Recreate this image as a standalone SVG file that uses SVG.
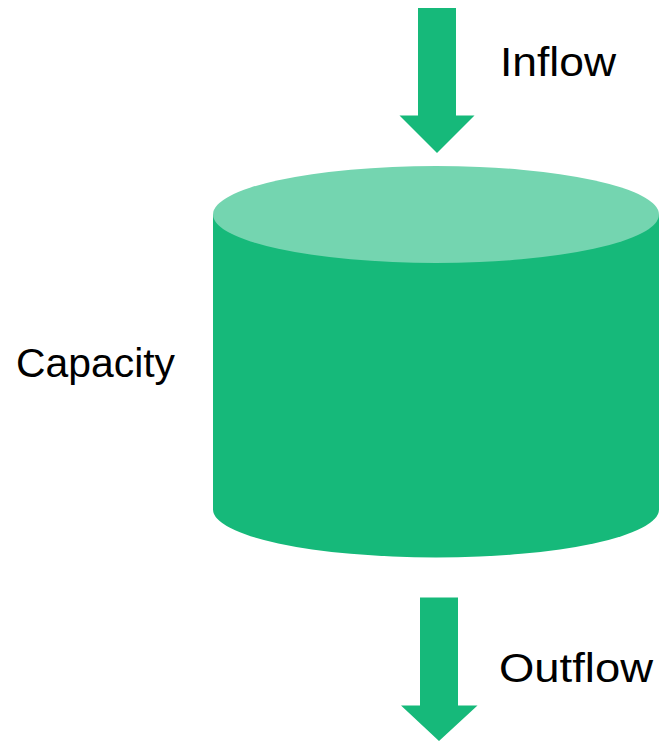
<svg xmlns="http://www.w3.org/2000/svg" width="659" height="741" viewBox="0 0 659 741">
  <style>
    .flow { fill: #16b97a; }
    .body { fill: #16b97a; }
    .lid { fill: #74d5b0; }
    .label { font-family: "Liberation Sans", Arial, sans-serif; font-size: 40px; fill: #000000; }
  </style>
  <rect width="659" height="741" fill="#ffffff"/>

  <!-- storage tank -->
  <g id="tank">
    <path class="body" d="M213,214.5 L659,214.5 L659,509.5 A223,48 0 0 1 213,509.5 Z"/>
    <ellipse class="lid" cx="436" cy="214.5" rx="223" ry="48.5"/>
  </g>

  <!-- flow arrows -->
  <g id="connectors">
    <polygon id="inflow-arrow" class="flow" points="418,8 456,8 456,115.5 474.5,115.5 437,153 399.5,115.5 418,115.5"/>
    <polygon id="outflow-arrow" class="flow" points="420,597.5 458,597.5 458,705.5 477.5,705.5 439,741 401,705.5 420,705.5"/>
  </g>

  <g id="labels">
    <text id="label-inflow" class="label" x="500" y="75.5" textLength="116" lengthAdjust="spacingAndGlyphs">Inflow</text>
    <text id="label-capacity" class="label" x="16" y="376.5" textLength="159" lengthAdjust="spacingAndGlyphs">Capacity</text>
    <text id="label-outflow" class="label" x="499" y="681.5" textLength="154" lengthAdjust="spacingAndGlyphs">Outflow</text>
  </g>
</svg>
